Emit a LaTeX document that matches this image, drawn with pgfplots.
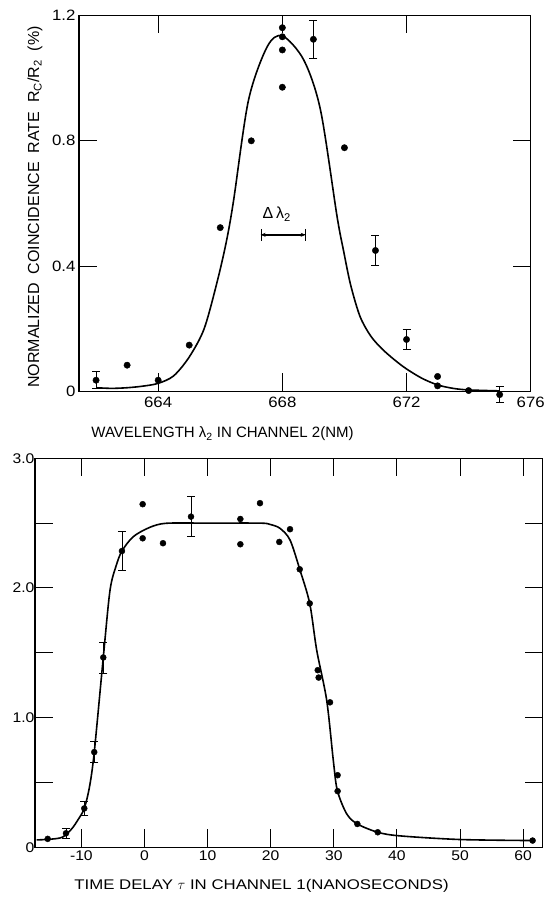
\documentclass[border=0pt]{standalone}
\usepackage{fontspec}
\setmainfont{Liberation Sans}
\newfontfamily\wideA[FakeStretch=1.12]{Liberation Sans}
\newfontfamily\wideB[FakeStretch=1.2]{Liberation Sans}
\usepackage{pgfplots}
\pgfplotsset{compat=1.18}
\usetikzlibrary{arrows.meta}
\begin{document}
\begin{tikzpicture}[x=1pt,y=1pt]
\useasboundingbox (0,0) rectangle (544,897);
% ---------------- top panel ----------------
\begin{axis}[at={(79pt,505.5pt)}, anchor=south west, scale only axis,
  width=451.7pt, height=376pt,
  xmin=661.45, xmax=676, ymin=0, ymax=1.2,
  xtick={664,668,672,676}, ytick={0,0.4,0.8,1.2},
  yticklabels={0,0.4,0.8,1.2},
  tick align=inside, major tick length=18pt,
  axis line style={line width=1.2pt}, tick style={line width=1pt, black},
  ticklabel style={font=\wideA\fontsize{15}{15}\selectfont},
  /pgf/number format/assume math mode=true,
  /pgf/number format/set thousands separator={},
  xticklabel style={yshift=-2pt},
  clip=false]
\addplot[smooth, tension=0.5, line width=1.6pt] coordinates {
 (662.0,0.012) (662.5,0.010) (663.0,0.012) (663.5,0.017) (664.0,0.026)
 (664.5,0.05) (665.0,0.11) (665.48,0.20) (665.9,0.35) (666.2,0.48)
 (666.43,0.61) (666.91,0.93) (667.51,1.10) (668.0,1.135) (668.69,1.058)
 (669.23,0.898) (669.76,0.56) (669.97,0.45) (670.2,0.34) (670.5,0.24)
 (670.84,0.178) (671.2,0.137) (671.6,0.102) (672.0,0.072) (672.5,0.042)
 (673.0,0.021) (673.5,0.010) (674.0,0.005) (675.0,0.002)};
\addplot[only marks, mark=*, mark size=3.2pt] coordinates {
 (663,0.084) (664,0.036) (665,0.148) (666,0.523) (667,0.80)
 (668,1.161) (668,1.132) (668,1.09) (668,0.971) (670,0.778)
 (673,0.048) (673,0.018) (674,0.003)};
\addplot[only marks, mark=*, mark size=3.2pt,
  error bars/.cd, y dir=both, y explicit,
  error bar style={line width=0.8pt},
  error mark options={rotate=90, mark size=4pt, line width=0.8pt}]
  table[x=x, y=y, y error=e] {
x y e
662 0.036 0.027
669 1.124 0.060
671 0.450 0.048
672 0.166 0.032
675 -0.010 0.026
};
\draw[{Bar[width=12pt]}-{Bar[width=12pt]}, line width=0.8pt] (axis cs:667.3,0.50) -- (axis cs:668.75,0.50);
\draw[{Stealth[length=5pt,width=4pt]}-{Stealth[length=5pt,width=4pt]}, line width=0.6pt] (axis cs:667.3,0.50) -- (axis cs:668.75,0.50);
\node[font=\fontsize{16}{16}\selectfont] at (axis cs:667.82,0.566) {Δ\,λ\textsubscript{2}};
\end{axis}
\node[rotate=90, font=\fontsize{16}{16}\selectfont] at (35,690)
  {NORMALIZED\ \ COINCIDENCE\ \ RATE\ \ R\textsubscript{C}/R\textsubscript{2}\ \ (\%)};
\node[font=\fontsize{15}{15}\selectfont] at (222.5,463)
  {WAVELENGTH λ\textsubscript{2} IN CHANNEL 2(NM)};
% ---------------- bottom panel ----------------
\begin{axis}[at={(35pt,49.7pt)}, anchor=south west, scale only axis,
  width=507.7pt, height=389pt,
  xmin=-17.35, xmax=63.1, ymin=0, ymax=3,
  xtick={-10,0,10,20,30,40,50,60},
  ytick={0,0.5,1,1.5,2,2.5,3},
  yticklabels={0,{},1.0,{},2.0,{},3.0},
  tick align=inside, major tick length=18pt,
  axis line style={line width=1.2pt}, tick style={line width=1pt, black},
  ticklabel style={font=\wideA\fontsize{14}{14}\selectfont},
  yticklabel style={xshift=3pt},
  /pgf/number format/assume math mode=true,
  clip=false]
\addplot[smooth, tension=0.5, line width=1.6pt] coordinates {
 (-17.1,0.057) (-15.0,0.062) (-13.0,0.078) (-11.54,0.142) (-10.5,0.215)
 (-9.54,0.30) (-8.7,0.47) (-7.96,0.734) (-6.53,1.464) (-5.47,1.98)
 (-4.5,2.17) (-3.57,2.285) (-1.77,2.396) (0.87,2.468) (3.5,2.499)
 (10,2.50) (18.3,2.50) (19.9,2.49) (21.47,2.46) (23.06,2.37)
 (24.6,2.144) (26.18,1.881) (27.29,1.52) (28.87,1.134) (29.92,0.67)
 (30.56,0.438) (32.04,0.258) (33.73,0.18) (36.96,0.116) (40.5,0.088)
 (50,0.06) (61.5,0.052)};
\addplot[only marks, mark=*, mark size=3pt] coordinates {
 (-15.34,0.065) (-0.29,2.646) (-0.29,2.383) (2.93,2.345)
 (15.19,2.532) (15.19,2.337) (18.3,2.654) (21.36,2.355) (23.06,2.453)
 (24.6,2.144) (26.18,1.881) (27.45,1.366) (27.6,1.309) (29.4,1.118)
 (30.6,0.556) (30.6,0.433) (33.73,0.18) (36.96,0.116) (61.5,0.052)};
\addplot[only marks, mark=*, mark size=3pt,
  error bars/.cd, y dir=both, y explicit,
  error bar style={line width=0.8pt},
  error mark options={rotate=90, mark size=4pt, line width=0.8pt}]
  table[x=x, y=y, y error=e] {
x y e
-12.44 0.108 0.04
-9.54 0.300 0.055
-7.96 0.734 0.083
-6.53 1.464 0.12
-3.57 2.285 0.15
7.37 2.550 0.155
};
\end{axis}
\node[font=\wideB\fontsize{14}{14}\selectfont] at (261.5,11)
  {TIME DELAY $\tau$ IN CHANNEL 1(NANOSECONDS)};
\end{tikzpicture}
\end{document}
